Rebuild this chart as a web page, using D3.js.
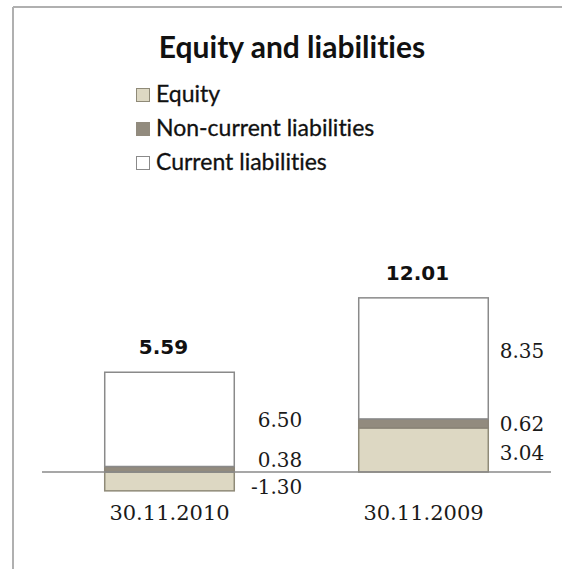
<!DOCTYPE html>
<html>
<head>
<meta charset="utf-8">
<script src="https://cdn.jsdelivr.net/npm/d3@7"></script>
<style>
  html, body { margin: 0; padding: 0; background: #fff; }
  svg { display: block; }
  text { font-variant-ligatures: none; }
</style>
</head>
<body>
<svg id="chart" width="562" height="569"></svg>
<script>
// Balance sheet: equity and liabilities by reporting date
const categories = ["30.11.2010", "30.11.2009"];
const seriesNames = ["Equity", "Non-current liabilities", "Current liabilities"];
const equity = [-1.30, 3.04];
const nonCurrent = [0.38, 0.62];
const current = [6.50, 8.35];
const totals = [5.59, 12.01];

const colors = {
  "Equity": "#ddd8c3",
  "Non-current liabilities": "#928b7e",
  "Current liabilities": "#ffffff"
};
const strokes = {
  "Equity": "#8f8a78",
  "Non-current liabilities": "#8a8478",
  "Current liabilities": "#8a8a8a"
};

// number format with a plain hyphen for negatives
const fmt = d3.formatLocale({ decimal: ".", thousands: ",", grouping: [3], currency: ["", ""], minus: "-" }).format(".2f");

const rows = categories.map((c, i) => ({
  category: c,
  "Equity": equity[i],
  "Non-current liabilities": nonCurrent[i],
  "Current liabilities": current[i],
  total: totals[i]
}));

const svg = d3.select("#chart");

// frame lines (top and left edges)
svg.append("line").attr("x1", 13).attr("x2", 562).attr("y1", 7).attr("y2", 7)
  .attr("stroke", "#b0b0b0").attr("stroke-width", 2);
svg.append("line").attr("x1", 13).attr("x2", 13).attr("y1", 7).attr("y2", 569)
  .attr("stroke", "#b0b0b0").attr("stroke-width", 2);

// title
svg.append("text")
  .attr("x", 292).attr("y", 58)
  .attr("text-anchor", "middle")
  .style("font-family", "Lato, 'Open Sans', sans-serif")
  .style("font-weight", "bold")
  .style("font-size", "30px")
  .attr("fill", "#111")
  .text("Equity and liabilities");

// legend
const legend = svg.append("g").attr("transform", "translate(136,88)");
seriesNames.forEach((name, i) => {
  const g = legend.append("g").attr("transform", `translate(0,${i * 34})`);
  g.append("rect")
    .attr("x", 0.5).attr("y", 0.5).attr("width", 13).attr("height", 13)
    .attr("fill", colors[name])
    .attr("stroke", name === "Non-current liabilities" ? colors[name] : strokes[name])
    .attr("stroke-width", 1);
  g.append("text")
    .attr("x", 20).attr("y", 14)
    .style("font-family", "Lato, 'Open Sans', sans-serif")
    .style("font-size", "23px")
    .attr("fill", "#111")
    .attr("stroke", "#111")
    .attr("stroke-width", 0.3)
    .text(name);
});

// scales
const x = d3.scaleBand().domain(categories).range([42.5, 550.5]).paddingInner(0.49).paddingOuter(0.245);
const y = d3.scaleLinear().domain([-2, 14]).range([501, 269]);

const stack = d3.stack().keys(seriesNames).offset(d3.stackOffsetDiverging);
const stacked = stack(rows);

// bars
svg.append("g").selectAll("g")
  .data(stacked)
  .join("g")
  .attr("fill", d => colors[d.key])
  .attr("stroke", d => strokes[d.key])
  .attr("stroke-width", 1.5)
  .selectAll("rect")
  .data(d => d)
  .join("rect")
  .attr("x", d => x(d.data.category))
  .attr("width", x.bandwidth())
  .attr("y", d => y(Math.max(d[0], d[1])))
  .attr("height", d => Math.abs(y(d[0]) - y(d[1])));

// zero line
svg.append("line")
  .attr("x1", 42).attr("x2", 551)
  .attr("y1", y(0)).attr("y2", y(0))
  .attr("stroke", "#8a8a8a").attr("stroke-width", 1.5);

// segment value labels, placed to the right of each bar
const labelDx = [68, 56];
const labelDy = {
  "30.11.2010": { "Equity": 5, "Non-current liabilities": -9, "Current liabilities": 0 },
  "30.11.2009": { "Equity": 3, "Non-current liabilities": 0, "Current liabilities": -8 }
};
const valueLabels = [];
stacked.forEach(s => {
  s.forEach((d, i) => {
    valueLabels.push({
      key: s.key,
      category: d.data.category,
      value: d.data[s.key],
      cx: x(d.data.category) + x.bandwidth() + labelDx[i],
      cy: (y(d[0]) + y(d[1])) / 2 + labelDy[d.data.category][s.key]
    });
  });
});
svg.append("g").selectAll("text")
  .data(valueLabels)
  .join("text")
  .attr("x", d => d.cx)
  .attr("y", d => d.cy)
  .attr("dy", "0.36em")
  .attr("text-anchor", "end")
  .style("font-family", "'DejaVu Serif', serif")
  .style("font-size", "20px")
  .attr("fill", "#1a1a1a")
  .text(d => fmt(d.value));

// totals above bars
svg.append("g").selectAll("text")
  .data(rows)
  .join("text")
  .attr("x", d => x(d.category) + x.bandwidth() / 2 - 6)
  .attr("y", d => y(d3.sum(seriesNames, k => Math.max(0, d[k]))) - 18)
  .attr("text-anchor", "middle")
  .style("font-family", "'DejaVu Sans', sans-serif")
  .style("font-weight", "bold")
  .style("font-size", "20px")
  .attr("fill", "#111")
  .text(d => fmt(d.total));

// category labels
svg.append("g").selectAll("text")
  .data(categories)
  .join("text")
  .attr("x", d => x(d) + x.bandwidth() / 2)
  .attr("y", 520)
  .attr("text-anchor", "middle")
  .style("font-family", "'DejaVu Serif', serif")
  .style("font-size", "21px")
  .attr("fill", "#1a1a1a")
  .text(d => d);
</script>
</body>
</html>
